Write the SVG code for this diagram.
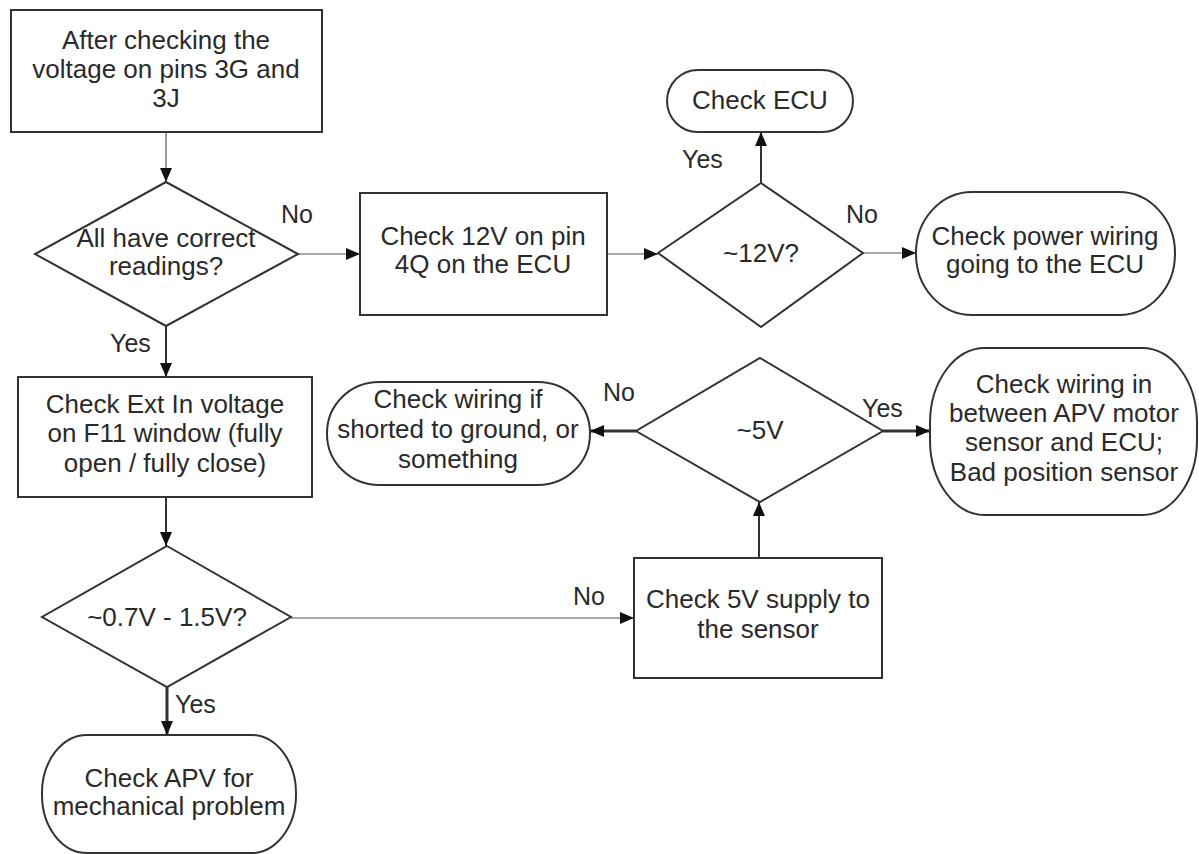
<svg xmlns="http://www.w3.org/2000/svg" width="1199" height="854" viewBox="0 0 1199 854">
<style>
.n{fill:#fff;stroke:#333;stroke-width:2}
.t{font-family:"Liberation Sans",Arial,sans-serif;font-size:26px;fill:#2a2a2a;text-anchor:middle}
.l{font-family:"Liberation Sans",Arial,sans-serif;font-size:25px;fill:#2a2a2a}
.c{fill:none;stroke:#333}
.c1{stroke-width:1.2;stroke:#555}
.c2{stroke-width:2}
.c3{stroke-width:3}
</style>
<defs>
<marker id="a" markerUnits="userSpaceOnUse" markerWidth="15" markerHeight="12" refX="14" refY="6" orient="auto">
<path d="M0,0 L14,6 L0,12 z" fill="#111"/>
</marker>
</defs>
<rect width="1199" height="854" fill="#fff"/>
<g id="connectors">
<line class="c c1" x1="166" y1="132" x2="166" y2="182" marker-end="url(#a)"/>
<line class="c c1" x1="298" y1="254" x2="360" y2="254" marker-end="url(#a)"/>
<line class="c c1" x1="607" y1="254" x2="658" y2="254" marker-end="url(#a)"/>
<line class="c c2" x1="761" y1="183" x2="761" y2="132" marker-end="url(#a)"/>
<line class="c c1" x1="863" y1="253" x2="916" y2="253" marker-end="url(#a)"/>
<line class="c c2" x1="166" y1="326" x2="166" y2="377" marker-end="url(#a)"/>
<line class="c c2" x1="166" y1="497" x2="166" y2="546" marker-end="url(#a)"/>
<line class="c c3" x1="167" y1="687" x2="167" y2="735" marker-end="url(#a)"/>
<line class="c c1" x1="291" y1="618" x2="634" y2="618" marker-end="url(#a)"/>
<line class="c c2" x1="759" y1="558" x2="759" y2="502" marker-end="url(#a)"/>
<line class="c c3" x1="636" y1="431" x2="590" y2="431" marker-end="url(#a)"/>
<line class="c c3" x1="883" y1="431" x2="930" y2="431" marker-end="url(#a)"/>
<text class="l" x="281" y="223">No</text>
<text class="l" x="110" y="352">Yes</text>
<text class="l" x="682" y="168">Yes</text>
<text class="l" x="846" y="223">No</text>
<text class="l" x="603" y="401">No</text>
<text class="l" x="862" y="417">Yes</text>
<text class="l" x="573" y="605">No</text>
<text class="l" x="175" y="713">Yes</text>
</g>
<g id="start">
<rect class="n" x="11" y="10" width="311" height="122"/>
<text class="t" x="166" y="49">After checking the</text>
<text class="t" x="166" y="78">voltage on pins 3G and</text>
<text class="t" x="166" y="107">3J</text>
</g>
<g id="dec1">
<polygon class="n" points="166,182 298,254 166,326 35,254"/>
<text class="t" x="166" y="247">All have correct</text>
<text class="t" x="166" y="275">readings?</text>
</g>
<g id="check12v">
<rect class="n" x="360" y="193" width="247" height="122"/>
<text class="t" x="483" y="245">Check 12V on pin</text>
<text class="t" x="483" y="273">4Q on the ECU</text>
</g>
<g id="dec12v">
<polygon class="n" points="761,183 863,253 761,327 658,253"/>
<text class="t" x="761" y="262">~12V?</text>
</g>
<g id="checkecu">
<rect class="n" x="667" y="70" width="186" height="62" rx="31" ry="31"/>
<text class="t" x="760" y="109">Check ECU</text>
</g>
<g id="powerwiring">
<rect class="n" x="916" y="192" width="259" height="123" rx="56" ry="61"/>
<text class="t" x="1045" y="245">Check power wiring</text>
<text class="t" x="1045" y="273">going to the ECU</text>
</g>
<g id="extin">
<rect class="n" x="18" y="377" width="294" height="120"/>
<text class="t" x="165" y="413">Check Ext In voltage</text>
<text class="t" x="165" y="442">on F11 window (fully</text>
<text class="t" x="165" y="472">open / fully close)</text>
</g>
<g id="dec07">
<polygon class="n" points="167,546 291,617 167,687 42,617"/>
<text class="t" x="167" y="626">~0.7V - 1.5V?</text>
</g>
<g id="apvmech">
<rect class="n" x="42" y="735" width="254" height="118" rx="45" ry="58"/>
<text class="t" x="169" y="787">Check APV for</text>
<text class="t" x="169" y="815">mechanical problem</text>
</g>
<g id="check5v">
<rect class="n" x="634" y="558" width="248" height="120"/>
<text class="t" x="758" y="608">Check 5V supply to</text>
<text class="t" x="758" y="638">the sensor</text>
</g>
<g id="dec5v">
<polygon class="n" points="760,358 883,431 760,502 636,431"/>
<text class="t" x="760" y="439">~5V</text>
</g>
<g id="shorted">
<rect class="n" x="327" y="382" width="263" height="103" rx="52" ry="51"/>
<text class="t" x="458" y="408">Check wiring if</text>
<text class="t" x="458" y="438">shorted to ground, or</text>
<text class="t" x="458" y="468">something</text>
</g>
<g id="apvwiring">
<rect class="n" x="930" y="348" width="267" height="167" rx="55" ry="75"/>
<text class="t" x="1064" y="393">Check wiring in</text>
<text class="t" x="1064" y="422">between APV motor</text>
<text class="t" x="1064" y="451">sensor and ECU;</text>
<text class="t" x="1064" y="481">Bad position sensor</text>
</g>
</svg>
